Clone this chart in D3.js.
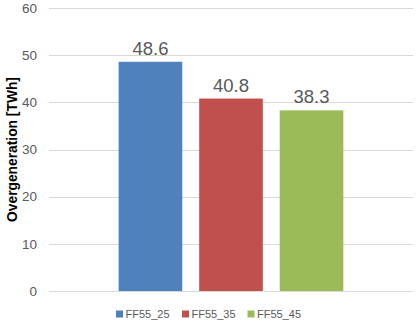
<!DOCTYPE html>
<html><head><meta charset="utf-8">
<script src="https://cdn.jsdelivr.net/npm/d3@7"></script>
<style>body{margin:0;background:#fff}svg{display:block}</style>
</head><body>
<svg id="c" width="419" height="326"></svg>
<script>
const series = ["FF55_25","FF55_35","FF55_45"];
const values = [48.6, 40.8, 38.3];
const labels = ["48.6","40.8","38.3"];
const colors = ["#4f81bd","#c0504d","#9bbb59"];
const yTicks = [0,10,20,30,40,50,60];
const yTitle = "Overgeneration [TWh]";

(function(){
const svg = d3.select("#c");
const mL = 49, mR = 413, mT = 8, mB = 291;
const y = d3.scaleLinear().domain([0,60]).range([mB, mT]);
const x0 = d3.scaleBand().domain(["all"]).range([mL, mR]).paddingInner(0).paddingOuter(0.31);
const x1 = d3.scaleBand().domain(series).range([x0("all"), x0("all")+x0.bandwidth()]).paddingInner(0.21).paddingOuter(0);

// gridlines
svg.append("g").selectAll("line").data(yTicks).join("line")
  .attr("x1", mL).attr("x2", mR)
  .attr("y1", d=>Math.round(y(d))+0.5).attr("y2", d=>Math.round(y(d))+0.5)
  .attr("stroke", "#d9d9d9").attr("stroke-width", 1);

// y axis labels
const yAxis = svg.append("g").attr("transform", `translate(${mL},0)`)
  .call(d3.axisLeft(y).tickValues(yTicks).tickSize(0).tickPadding(12));
yAxis.select(".domain").remove();
yAxis.selectAll("text").attr("fill","#595959").style("font-family","Liberation Sans, Arial, sans-serif").style("font-size","13.5px");

// y title
svg.append("text").attr("transform", `translate(17,${(mT+mB)/2}) rotate(-90)`)
  .attr("text-anchor","middle").attr("fill","#000").style("font-family","Liberation Sans, Arial, sans-serif")
  .style("font-size","13.8px").style("font-weight","bold").text(yTitle);

// bars
svg.append("g").selectAll("rect").data(series).join("rect")
  .attr("x", d=>x1(d)).attr("width", x1.bandwidth())
  .attr("y", (d,i)=>y(values[i])).attr("height", (d,i)=>y(0)-y(values[i]))
  .attr("fill", (d,i)=>colors[i]);

// value labels
svg.append("g").selectAll("text").data(series).join("text")
  .attr("x", d=>x1(d)+x1.bandwidth()/2).attr("y", (d,i)=>y(values[i])-7)
  .attr("text-anchor","middle").attr("fill","#595959")
  .style("font-family","Liberation Sans, Arial, sans-serif").style("font-size","18.5px")
  .text((d,i)=>labels[i]);

// legend
const legX = [116, 182, 247.5];
const lg = svg.append("g").selectAll("g").data(series).join("g")
  .attr("transform", (d,i)=>`translate(${legX[i]},314)`);
lg.append("rect").attr("x",0).attr("y",-3.5).attr("width",7).attr("height",7).attr("fill",(d,i)=>colors[i]);
lg.append("text").attr("x",9.5).attr("y",4).attr("fill","#595959")
  .style("font-family","Liberation Sans, Arial, sans-serif").style("font-size","11px").text(d=>d);
})();
</script>
</body></html>
